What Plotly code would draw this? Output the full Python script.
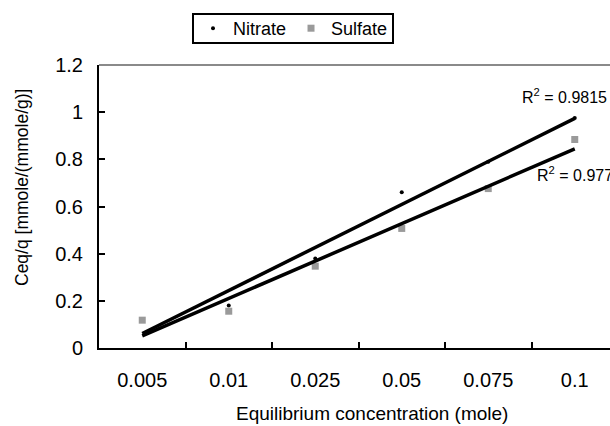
import numpy as np
import plotly.graph_objects as go

categories = ["0.005", "0.01", "0.025", "0.05", "0.075", "0.1"]
nitrate = [0.12, 0.18, 0.38, 0.66, 0.79, 0.975]
sulfate = [0.118, 0.156, 0.347, 0.507, 0.676, 0.884]
r2_labels = ["R<sup>2</sup> = 0.9815", "R<sup>2</sup> = 0.9772"]
x_title = "Equilibrium concentration (mole)"
y_title = "Ceq/q [mmole/(mmole/g)]"

FONT = "Liberation Sans, Arial, sans-serif"
idx = np.arange(1, len(categories) + 1)

def trend(vals):
    b, a = np.polyfit(idx, vals, 1)
    return list(a + b * idx)

fig = go.Figure()
fig.add_trace(go.Scatter(x=categories, y=nitrate, mode="markers", name="Nitrate",
                         marker=dict(symbol="circle", size=4, color="black")))
fig.add_trace(go.Scatter(x=categories, y=sulfate, mode="markers", name="Sulfate",
                         marker=dict(symbol="square", size=7, color="#9a9a9a")))
fig.add_trace(go.Scatter(x=categories, y=trend(nitrate), mode="lines",
                         line=dict(color="black", width=3.5), showlegend=False, hoverinfo="skip"))
fig.add_trace(go.Scatter(x=categories, y=trend(sulfate), mode="lines",
                         line=dict(color="black", width=3.5), showlegend=False, hoverinfo="skip"))

fig.add_annotation(x=4.37, y=1.069, xref="x", yref="y", text=r2_labels[0], showarrow=False,
                   xanchor="left", yanchor="middle", font=dict(family=FONT, size=16, color="black"))
fig.add_annotation(x=4.54, y=0.739, xref="x", yref="y", text=r2_labels[1], showarrow=False,
                   xanchor="left", yanchor="middle", font=dict(family=FONT, size=16, color="black"))

# axis titles
fig.add_annotation(x=(372 - 99) / 511, y=(348 - 414) / 283, xref="paper", yref="paper",
                   text=x_title, showarrow=False, xanchor="center", yanchor="middle",
                   font=dict(family=FONT, size=19, color="black"))
fig.add_annotation(x=(22 - 99) / 511, y=(348 - 188) / 283, xref="paper", yref="paper",
                   text=y_title, showarrow=False, xanchor="center", yanchor="middle",
                   textangle=-90, font=dict(family=FONT, size=17.5, color="black"))

fig.add_shape(type="line", xref="paper", yref="paper", x0=0, x1=1, y0=1, y1=1,
              line=dict(color="#8a8a8a", width=2))
# legend frame
fig.add_shape(type="rect", xref="paper", yref="paper",
              x0=(193 - 99) / 511, x1=(393 - 99) / 511,
              y0=1 + (65 - 43) / 283, y1=1 + (65 - 14) / 283,
              line=dict(color="black", width=2), fillcolor="rgba(0,0,0,0)")

fig.update_layout(
    width=610, height=426,
    margin=dict(l=99, r=0, t=65, b=78, autoexpand=False),
    paper_bgcolor="white", plot_bgcolor="white",
    font=dict(family=FONT, size=20, color="black"),
    legend=dict(orientation="h", x=(293 - 99) / 511, xanchor="center",
                y=1 + (65 - 28.5) / 283, yanchor="middle", bgcolor="rgba(0,0,0,0)",
                borderwidth=0, font=dict(size=18), itemwidth=30),
    xaxis=dict(type="category", range=[-0.5, -0.5 + 511 / 86.5], showgrid=False, showline=True,
               linecolor="black", linewidth=2, ticks="inside", tickson="boundaries",
               ticklen=6, tickwidth=2, tickcolor="black", ticklabelstandoff=13,
               zeroline=False, automargin=False),
    yaxis=dict(range=[0, 1.2], dtick=0.2, showgrid=False, showline=True, linecolor="black",
               linewidth=2, ticks="inside", ticklen=6, tickwidth=2, tickcolor="black",
               ticklabelstandoff=10, zeroline=False, automargin=False),
)

fig.write_html("out.html", config={"displayModeBar": False},
               post_script="document.body.style.margin='0';document.body.style.overflow='hidden';")
